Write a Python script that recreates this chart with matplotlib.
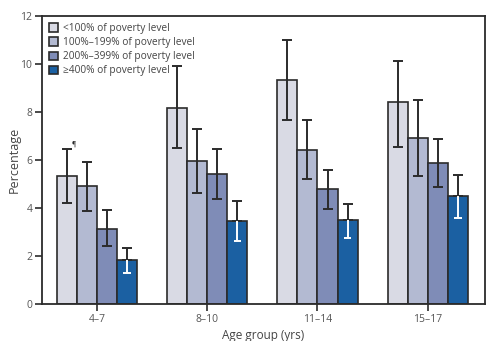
import matplotlib
matplotlib.use("Agg")
import matplotlib.pyplot as plt
import numpy as np

# percentages by age group and family income (% of poverty level)
age_groups = ["4\u20137", "8\u201310", "11\u201314", "15\u201317"]
series_names = ["<100% of poverty level",
                "100%\u2013199% of poverty level",
                "200%\u2013399% of poverty level",
                "\u2265400% of poverty level"]
values = [
    [5.33, 8.17, 9.33, 8.40],
    [4.90, 5.96, 6.42, 6.90],
    [3.12, 5.42, 4.79, 5.87],
    [1.83, 3.46, 3.50, 4.50],
]
ci_low = [
    [4.20, 6.50, 7.67, 6.55],
    [3.85, 4.63, 5.20, 5.33],
    [2.40, 4.38, 3.96, 4.88],
    [1.30, 2.63, 2.75, 3.58],
]
ci_high = [
    [6.45, 9.90, 11.00, 10.12],
    [5.90, 7.30, 7.67, 8.50],
    [3.90, 6.47, 5.60, 6.88],
    [2.33, 4.30, 4.17, 5.38],
]
colors = ["#d9dae4", "#b3bad2", "#7f8cb7", "#1b60a2"]
ink = "#2b2b2b"

plt.rcParams["font.family"] = ["Open Sans", "DejaVu Sans"]

fig = plt.figure(figsize=(5, 3.41), dpi=100)
ax = fig.add_axes([0.084, 0.109, 0.886, 0.844])

x = np.arange(len(age_groups))
w = 0.182
for i in range(4):
    xs = x + (i - 1.5) * w
    v = np.array(values[i])
    lo = np.array(ci_low[i])
    hi = np.array(ci_high[i])
    ax.bar(xs, v, width=w, color=colors[i], edgecolor=ink, linewidth=1.2,
           label=series_names[i], zorder=2)
    if i < 3:
        ax.errorbar(xs, v, yerr=[v - lo, hi - v], fmt="none", ecolor=ink,
                    elinewidth=1.4, capsize=3.5, capthick=1.4, zorder=3)
    else:
        # upper half dark, lower half (inside the dark bar) white
        ax.errorbar(xs, v, yerr=[np.zeros_like(v), hi - v], fmt="none",
                    ecolor=ink, elinewidth=1.4, capsize=3.5, capthick=1.4,
                    zorder=3)
        ax.vlines(xs, lo, v, colors="white", linewidth=1.4, zorder=3)
        ax.hlines(lo, xs - 0.035, xs + 0.035, colors="white", linewidth=1.4,
                  zorder=3)

# footnote mark on the first bar
ax.text(x[0] - 1.5 * w + 0.04, ci_high[0][0] + 0.05, "\u00b6", fontsize=5,
        color=ink, ha="left", va="bottom")

ax.set_xlim(-0.5, 3.52)
ax.set_ylim(0, 12)
ax.set_xticks(x)
ax.set_xticklabels(age_groups)
ax.set_yticks(range(0, 13, 2))
ax.tick_params(axis="both", colors=ink, labelcolor="#555555", labelsize=7.5,
               length=5, width=1.2, pad=2)

for s in ax.spines.values():
    s.set_color(ink)
    s.set_linewidth(1.3)

ax.set_xlabel("Age group (yrs)", fontsize=8.5, color="#444444", labelpad=3)
ax.set_ylabel("Percentage", fontsize=9, color="#444444", labelpad=0)

leg = ax.legend(loc="upper left", frameon=False, fontsize=7.3,
                handlelength=0.9, handleheight=0.9, handletextpad=0.5,
                labelspacing=0.3, borderaxespad=0.3,
                bbox_to_anchor=(0.0, 1.0))
for t in leg.get_texts():
    t.set_color("#444444")

fig.savefig("out.png", dpi=100)
